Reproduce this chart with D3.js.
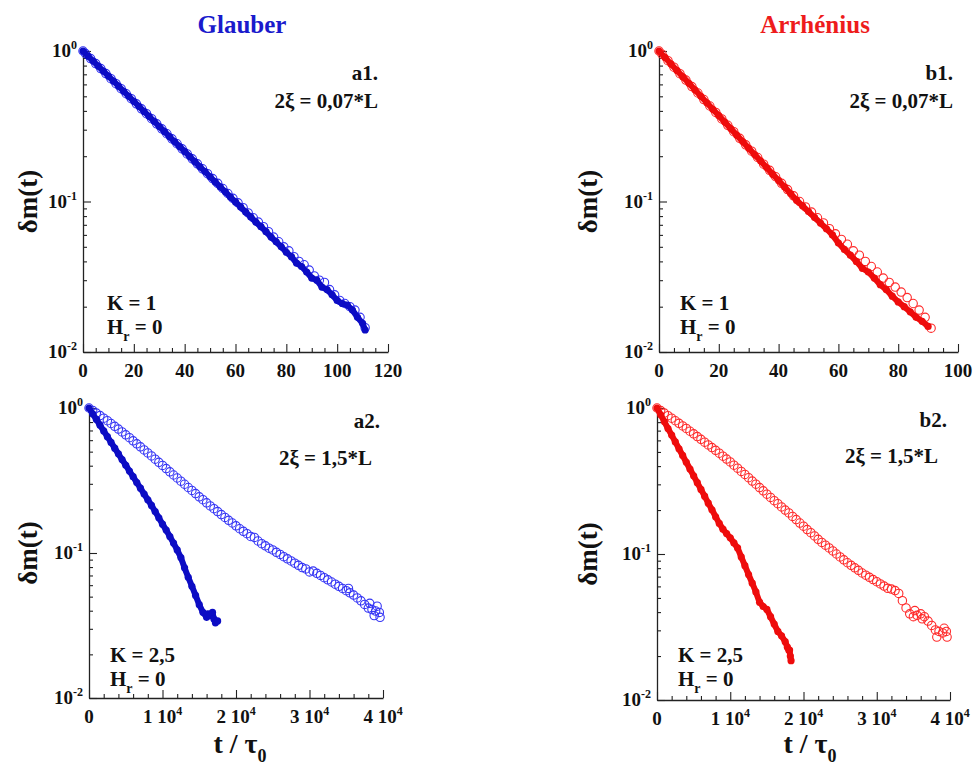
<!DOCTYPE html>
<html><head><meta charset="utf-8">
<script src="https://cdn.jsdelivr.net/npm/d3@7"></script>
<style>body{margin:0;background:#fff}</style>
</head><body>
<svg id="c" width="973" height="773" xmlns="http://www.w3.org/2000/svg"></svg>
<script>
// ---------------- DATA (t, δm) ----------------
const a1Filled = [[0,1.0],[2,0.926],[4,0.857],[6,0.794],[8,0.735],[10,0.681],[12,0.630],[14,0.584],[16,0.540],[18,0.500],[20,0.463],[22,0.429],[24,0.397],[26,0.368],[28,0.341],[30,0.315],[32,0.292],[34,0.270],[36,0.250],[38,0.232],[40,0.215],[42,0.199],[44,0.184],[46,0.170],[48,0.158],[50,0.146],[52,0.135],[54,0.125],[56,0.116],[58,0.107],[60,0.0993],[62,0.092],[64,0.085],[66,0.079],[68,0.073],[70,0.068],[72,0.063],[74,0.058],[76,0.054],[78,0.050],[80,0.046],[82,0.043],[84,0.039],[86,0.037],[88,0.034],[90,0.031],[92,0.030],[94,0.027],[96,0.026],[98,0.024],[100,0.022],[102,0.021],[104,0.0205],[106,0.019],[108,0.017],[110,0.0155],[111,0.014]];
const a1Open = [[0,1.0],[1,0.962],[3,0.891],[5,0.825],[7,0.764],[9,0.708],[11,0.655],[13,0.607],[15,0.562],[17,0.520],[19,0.482],[21,0.446],[23,0.413],[25,0.383],[27,0.355],[29,0.328],[31,0.304],[33,0.282],[35,0.261],[37,0.242],[39,0.224],[41,0.207],[43,0.192],[45,0.178],[47,0.165],[49,0.153],[51,0.142],[53,0.132],[55,0.122],[57,0.113],[59,0.105],[61,0.098],[63,0.091],[65,0.084],[67,0.078],[69,0.073],[71,0.068],[73,0.063],[75,0.058],[77,0.054],[79,0.050],[81,0.047],[83,0.043],[85,0.040],[87,0.038],[89,0.035],[91,0.032],[93,0.030],[95,0.029],[97,0.026],[99,0.024],[101,0.022],[103,0.021],[105,0.020],[107,0.019],[109,0.017],[111,0.0145]];
const b1Filled = [[0,1.0],[2,0.906],[4,0.820],[6,0.743],[8,0.673],[10,0.610],[12,0.552],[14,0.500],[16,0.453],[18,0.410],[20,0.372],[22,0.337],[24,0.305],[26,0.276],[28,0.250],[30,0.226],[32,0.205],[34,0.186],[36,0.168],[38,0.152],[40,0.138],[42,0.125],[44,0.113],[46,0.102],[48,0.0936],[50,0.0857],[52,0.0785],[54,0.0719],[56,0.0659],[58,0.0600],[60,0.053],[62,0.048],[64,0.044],[66,0.040],[68,0.036],[70,0.034],[72,0.031],[74,0.028],[76,0.026],[78,0.0235],[80,0.0215],[82,0.020],[84,0.0185],[86,0.017],[88,0.016],[90,0.0148]];
const b1Open = [[0,1.0],[1,0.952],[3,0.862],[5,0.781],[7,0.707],[9,0.641],[11,0.580],[13,0.526],[15,0.476],[17,0.431],[19,0.391],[21,0.354],[23,0.321],[25,0.291],[27,0.263],[29,0.238],[31,0.216],[33,0.196],[35,0.177],[37,0.161],[39,0.146],[41,0.132],[43,0.120],[45,0.109],[47,0.100],[49,0.092],[51,0.085],[53,0.078],[55,0.072],[57,0.066],[59,0.061],[61,0.056],[63,0.052],[65,0.047],[67,0.044],[69,0.040],[71,0.037],[73,0.034],[75,0.031],[77,0.029],[79,0.027],[81,0.025],[83,0.023],[85,0.021],[87,0.019],[89,0.017],[91,0.0144]];
const a2Filled = [[0,1.0],[500,0.912],[1000,0.834],[1500,0.760],[2000,0.695],[2500,0.634],[3000,0.579],[3500,0.528],[4000,0.483],[4500,0.441],[5000,0.403],[5500,0.367],[6000,0.336],[6500,0.306],[7000,0.280],[7500,0.255],[8000,0.233],[8500,0.213],[9000,0.193],[9500,0.175],[10000,0.158],[10500,0.144],[11000,0.130],[11500,0.117],[12000,0.105],[12500,0.093],[13000,0.079],[13500,0.068],[14000,0.059],[14500,0.051],[15000,0.044],[15500,0.039],[16000,0.036],[16200,0.038],[16500,0.037],[16800,0.039],[17000,0.035],[17200,0.033],[17500,0.034]];
const a2Open = [[0,1.0],[500,0.962],[1000,0.923],[1500,0.887],[2000,0.851],[2500,0.817],[3000,0.782],[3500,0.748],[4000,0.716],[4500,0.684],[5000,0.653],[5500,0.624],[6000,0.594],[6500,0.566],[7000,0.540],[7500,0.514],[8000,0.490],[8500,0.467],[9000,0.444],[9500,0.422],[10000,0.402],[10500,0.382],[11000,0.363],[11500,0.345],[12000,0.329],[12500,0.313],[13000,0.298],[13500,0.283],[14000,0.270],[14500,0.257],[15000,0.244],[15500,0.233],[16000,0.222],[16500,0.211],[17000,0.202],[17500,0.193],[18000,0.184],[18500,0.176],[19000,0.168],[19500,0.161],[20000,0.154],[20500,0.147],[21000,0.141],[21500,0.136],[22000,0.130],[22500,0.128],[23000,0.121],[23500,0.116],[24000,0.112],[24500,0.108],[25000,0.105],[25500,0.101],[26000,0.0977],[26500,0.0944],[27000,0.0912],[27500,0.0881],[28000,0.0851],[28500,0.0822],[29000,0.0794],[29500,0.0776],[30000,0.074],[30500,0.075],[31000,0.0724],[31500,0.070],[32000,0.0676],[32500,0.0653],[33000,0.0631],[33500,0.061],[34000,0.0589],[34500,0.0569],[35000,0.055],[35300,0.057],[35500,0.0531],[36000,0.0513],[36500,0.049],[37000,0.0468],[37500,0.0442],[38000,0.0417],[38200,0.045],[38500,0.0407],[38800,0.037],[39000,0.0398],[39200,0.043],[39500,0.0389],[39600,0.036]];
const b2Filled = [[0,1.0],[500,0.898],[1000,0.807],[1500,0.724],[2000,0.652],[2500,0.586],[3000,0.526],[3500,0.473],[4000,0.425],[4500,0.382],[5000,0.343],[5500,0.308],[6000,0.277],[6500,0.249],[7000,0.223],[7500,0.201],[8000,0.180],[8500,0.162],[9000,0.148],[9500,0.138],[10000,0.129],[10500,0.119],[11000,0.110],[11500,0.0955],[12000,0.0832],[12500,0.0724],[13000,0.0631],[13500,0.055],[14000,0.0468],[14500,0.0437],[15000,0.0417],[15500,0.0372],[16000,0.0331],[16500,0.0295],[17000,0.0275],[17500,0.0251],[17800,0.023],[18000,0.0219],[18100,0.022],[18200,0.020],[18300,0.0186]];
const b2Open = [[0,1.0],[500,0.960],[1000,0.923],[1500,0.886],[2000,0.851],[2500,0.818],[3000,0.785],[3500,0.754],[4000,0.724],[4500,0.693],[5000,0.665],[5500,0.637],[6000,0.610],[6500,0.583],[7000,0.559],[7500,0.536],[8000,0.513],[8500,0.490],[9000,0.468],[9500,0.447],[10000,0.427],[10500,0.406],[11000,0.387],[11500,0.368],[12000,0.351],[12500,0.333],[13000,0.316],[13500,0.301],[14000,0.285],[14500,0.271],[15000,0.257],[15500,0.244],[16000,0.232],[16500,0.221],[17000,0.210],[17500,0.200],[18000,0.191],[18500,0.181],[19000,0.172],[19500,0.163],[20000,0.155],[20500,0.147],[21000,0.140],[21500,0.133],[22000,0.126],[22500,0.120],[23000,0.115],[23500,0.110],[24000,0.105],[24500,0.100],[25000,0.0955],[25500,0.0912],[26000,0.0871],[26500,0.0836],[27000,0.0804],[27500,0.0773],[28000,0.0741],[28500,0.0716],[29000,0.0692],[29500,0.0668],[30000,0.0646],[30500,0.0624],[31000,0.0603],[31500,0.0582],[32000,0.0575],[32500,0.0562],[33000,0.0537],[33500,0.0479],[34000,0.0427],[34500,0.0389],[35000,0.0372],[35200,0.041],[35500,0.038],[36000,0.0389],[36200,0.036],[36500,0.0372],[37000,0.0347],[37500,0.0324],[38000,0.0302],[38200,0.027],[38500,0.0295],[39000,0.0288],[39200,0.031],[39500,0.0295],[39600,0.027]];

const xTicksTop1 = [0,20,40,60,80,100,120];
const xTicksTop2 = [0,20,40,60,80,100];
const xTicksBottom = [0,10000,20000,30000,40000];
const xTickLabelsBottom = ["0","1 10","2 10","3 10","4 10"];
const yTicks = [1,0.1,0.01];
const yTickExp = ["0","-1","-2"];
const titles = ["Glauber","Arrhénius"];
const tags = ["a1.","b1.","a2.","b2."];
const xiLabels = ["2ξ = 0,07*L","2ξ = 0,07*L","2ξ = 1,5*L","2ξ = 1,5*L"];
const kLabels = ["K = 1","K = 1","K = 2,5","K = 2,5"];

// ---------------- LAYOUT / STYLE ----------------
const FONT = "'Liberation Serif','Times New Roman',Times,serif";
const BLUE = "#0c0cc4", BLUE_O = "#3535f5";
const RED = "#ee0c0c", RED_O = "#ff2a2a";
const svg = d3.select("#c");

const panels = [
  {box:[83,388,51,352], xMax:120, major:xTicksTop1, minorStep:5, labels:xTicksTop1.map(String), sup:null,
   col:BLUE, colO:BLUE_O, open:[a1Open], filled:[a1Filled], tagX:378, tagY:80, xiX:378, xiY:108, kX:107, kY:310, hY:334},
  {box:[659,958,51,352], xMax:100, major:xTicksTop2, minorStep:5, labels:xTicksTop2.map(String), sup:null,
   col:RED, colO:RED_O, open:[b1Open], filled:[b1Filled], tagX:953, tagY:80, xiX:953, xiY:108, kX:680, kY:310, hY:334},
  {box:[89,383,408,698], xMax:40000, major:xTicksBottom, minorStep:2000, labels:xTickLabelsBottom, sup:"4",
   col:BLUE, colO:BLUE_O, open:[a2Open], filled:[a2Filled], tagX:380, tagY:428, xiX:372, xiY:465, kX:110, kY:662, hY:686},
  {box:[657,950,408,700], xMax:40000, major:xTicksBottom, minorStep:2000, labels:xTickLabelsBottom, sup:"4",
   col:RED, colO:RED_O, open:[b2Open], filled:[b2Filled], tagX:947, tagY:427, xiX:938, xiY:463, kX:678, kY:662, hY:686}
];
const xLabelCenters = [null, null, 240, 810];

panels.forEach((p, i) => {
  const [x0,x1,y0,y1] = p.box;
  const x = d3.scaleLinear().domain([0,p.xMax]).range([x0,x1]);
  const y = d3.scaleLog().domain([0.01,1]).range([y1,y0]);
  const g = svg.append("g");

  // ticks (inward)
  const xMinor = d3.range(0, p.xMax + 1e-9, p.minorStep).filter(v => !p.major.includes(v));
  g.append("g").attr("transform",`translate(0,${y1})`)
    .call(d3.axisBottom(x).tickValues(xMinor).tickSize(-4).tickSizeOuter(0).tickFormat(""))
    .call(s => s.select(".domain").remove());
  g.append("g").attr("transform",`translate(0,${y1})`)
    .call(d3.axisBottom(x).tickValues(p.major).tickSize(-8).tickSizeOuter(0).tickFormat(""));
  const yMinor = [];
  [0.01,0.1].forEach(d => { for (let k=2;k<=9;k++) yMinor.push(d*k); });
  g.append("g").attr("transform",`translate(${x0},0)`)
    .call(d3.axisLeft(y).tickValues(yMinor).tickSize(-4).tickSizeOuter(0).tickFormat(""))
    .call(s => s.select(".domain").remove());
  g.append("g").attr("transform",`translate(${x0},0)`)
    .call(d3.axisLeft(y).tickValues(yTicks).tickSize(-8).tickSizeOuter(0).tickFormat(""));
  g.selectAll(".domain").attr("stroke","#222").attr("stroke-width",1.3);
  g.selectAll(".tick line").attr("stroke","#222").attr("stroke-width",1.1);

  // x tick labels
  p.major.forEach((v, j) => {
    const t = g.append("text").attr("x", x(v)).attr("y", y1 + 25)
      .attr("text-anchor","middle").attr("font-family",FONT).attr("font-weight","bold")
      .attr("font-size",19).attr("fill","#111");
    t.append("tspan").text(p.labels[j]);
    if (p.sup && v !== 0) t.append("tspan").attr("dy",-8).attr("font-size",12).text(p.sup);
  });
  // y tick labels
  yTicks.forEach((v, j) => {
    const t = g.append("text").attr("x", x0 - 6).attr("y", y(v) + 6)
      .attr("text-anchor","end").attr("font-family",FONT).attr("font-weight","bold")
      .attr("font-size",19).attr("fill","#111");
    t.append("tspan").text("10");
    t.append("tspan").attr("dy",-8).attr("font-size",12).text(yTickExp[j]);
  });

  // open circles
  p.open.forEach(ser => {
    g.append("g").selectAll("circle").data(ser).join("circle")
      .attr("cx", d => x(d[0])).attr("cy", d => y(d[1])).attr("r", 4.2)
      .attr("fill","none").attr("stroke",p.colO).attr("stroke-width",1.1);
  });
  // filled series
  p.filled.forEach(ser => {
    g.append("path").datum(ser)
      .attr("d", d3.line().x(d => x(d[0])).y(d => y(d[1])))
      .attr("fill","none").attr("stroke",p.col).attr("stroke-width",6).attr("stroke-linejoin","round");
    g.append("g").selectAll("circle").data(ser).join("circle")
      .attr("cx", d => x(d[0])).attr("cy", d => y(d[1])).attr("r", 3.6)
      .attr("fill",p.col);
  });

  // annotations
  const txt = (xx, yy, s, anchor, size) => g.append("text").attr("x",xx).attr("y",yy)
      .attr("text-anchor",anchor).attr("font-family",FONT).attr("font-weight","bold")
      .attr("font-size",size).attr("fill","#111").text(s);
  txt(p.tagX, p.tagY, tags[i], "end", 21);
  txt(p.xiX, p.xiY, xiLabels[i], "end", 21);
  txt(p.kX, p.kY, kLabels[i], "start", 21);
  const h = g.append("text").attr("x",p.kX).attr("y",p.hY).attr("font-family",FONT)
      .attr("font-weight","bold").attr("font-size",21).attr("fill","#111");
  h.append("tspan").text("H");
  h.append("tspan").attr("dy",7).attr("font-size",14).text("r");
  h.append("tspan").attr("dy",-7).text(" = 0");

  // y axis label
  const cy = (y0 + y1) / 2;
  const lx = i % 2 === 0 ? 28 : 588;
  g.append("text").attr("transform",`translate(${lx},${cy}) rotate(-90)`)
    .attr("text-anchor","middle").attr("dominant-baseline","central")
    .attr("font-family",FONT).attr("font-weight","bold").attr("font-size",27).attr("fill","#111")
    .text("δm(t)");

  // x axis label (bottom row only)
  if (i >= 2) {
    const xl = g.append("text").attr("x", xLabelCenters[i]).attr("y", 753)
      .attr("text-anchor","middle").attr("font-family",FONT).attr("font-weight","bold")
      .attr("font-size",28).attr("fill","#111");
    xl.append("tspan").text("t / τ");
    xl.append("tspan").attr("dy",9).attr("font-size",18).text("0");
  }
});

// titles
svg.append("text").attr("x",242).attr("y",33).attr("text-anchor","middle")
  .attr("font-family",FONT).attr("font-weight","bold").attr("font-size",25).attr("fill","#1a1acc").text(titles[0]);
svg.append("text").attr("x",815).attr("y",33).attr("text-anchor","middle")
  .attr("font-family",FONT).attr("font-weight","bold").attr("font-size",25).attr("fill","#ee1c1c").text(titles[1]);
</script>
</body></html>
